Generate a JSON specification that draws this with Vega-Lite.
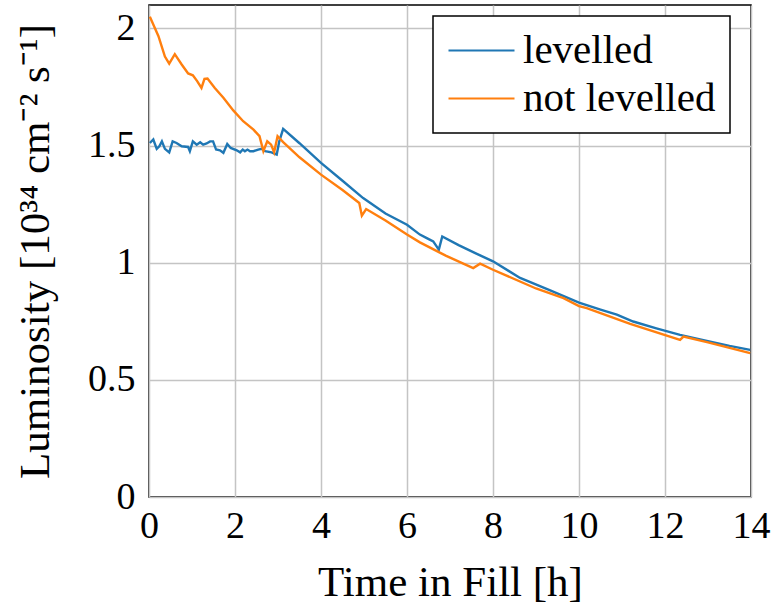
{
  "$schema": "https://vega.github.io/schema/vega-lite/v6.json",
  "width": 602,
  "height": 492,
  "autosize": {"type": "none"},
  "padding": {"left": 149, "top": 5, "right": 23, "bottom": 111},
  "background": "white",
  "data": {
    "values": [
      {"t": 0.02, "L": 1.511, "s": "levelled"},
      {"t": 0.10, "L": 1.526, "s": "levelled"},
      {"t": 0.18, "L": 1.486, "s": "levelled"},
      {"t": 0.24, "L": 1.497, "s": "levelled"},
      {"t": 0.30, "L": 1.518, "s": "levelled"},
      {"t": 0.37, "L": 1.486, "s": "levelled"},
      {"t": 0.47, "L": 1.471, "s": "levelled"},
      {"t": 0.55, "L": 1.518, "s": "levelled"},
      {"t": 0.64, "L": 1.511, "s": "levelled"},
      {"t": 0.76, "L": 1.497, "s": "levelled"},
      {"t": 0.91, "L": 1.494, "s": "levelled"},
      {"t": 0.95, "L": 1.476, "s": "levelled"},
      {"t": 1.02, "L": 1.518, "s": "levelled"},
      {"t": 1.11, "L": 1.504, "s": "levelled"},
      {"t": 1.19, "L": 1.514, "s": "levelled"},
      {"t": 1.26, "L": 1.504, "s": "levelled"},
      {"t": 1.34, "L": 1.509, "s": "levelled"},
      {"t": 1.42, "L": 1.518, "s": "levelled"},
      {"t": 1.49, "L": 1.518, "s": "levelled"},
      {"t": 1.56, "L": 1.483, "s": "levelled"},
      {"t": 1.65, "L": 1.480, "s": "levelled"},
      {"t": 1.73, "L": 1.469, "s": "levelled"},
      {"t": 1.82, "L": 1.507, "s": "levelled"},
      {"t": 1.90, "L": 1.490, "s": "levelled"},
      {"t": 2.04, "L": 1.480, "s": "levelled"},
      {"t": 2.12, "L": 1.471, "s": "levelled"},
      {"t": 2.18, "L": 1.483, "s": "levelled"},
      {"t": 2.23, "L": 1.476, "s": "levelled"},
      {"t": 2.29, "L": 1.483, "s": "levelled"},
      {"t": 2.35, "L": 1.476, "s": "levelled"},
      {"t": 2.43, "L": 1.476, "s": "levelled"},
      {"t": 2.54, "L": 1.483, "s": "levelled"},
      {"t": 2.62, "L": 1.486, "s": "levelled"},
      {"t": 2.70, "L": 1.476, "s": "levelled"},
      {"t": 2.85, "L": 1.471, "s": "levelled"},
      {"t": 2.97, "L": 1.462, "s": "levelled"},
      {"t": 3.03, "L": 1.518, "s": "levelled"},
      {"t": 3.12, "L": 1.571, "s": "levelled"},
      {"t": 3.5, "L": 1.51, "s": "levelled"},
      {"t": 4.0, "L": 1.426, "s": "levelled"},
      {"t": 4.5, "L": 1.35, "s": "levelled"},
      {"t": 4.98, "L": 1.276, "s": "levelled"},
      {"t": 5.5, "L": 1.21, "s": "levelled"},
      {"t": 6.0, "L": 1.162, "s": "levelled"},
      {"t": 6.3, "L": 1.12, "s": "levelled"},
      {"t": 6.46, "L": 1.105, "s": "levelled"},
      {"t": 6.61, "L": 1.091, "s": "levelled"},
      {"t": 6.74, "L": 1.056, "s": "levelled"},
      {"t": 6.82, "L": 1.112, "s": "levelled"},
      {"t": 7.2, "L": 1.075, "s": "levelled"},
      {"t": 7.6, "L": 1.04, "s": "levelled"},
      {"t": 8.0, "L": 1.006, "s": "levelled"},
      {"t": 8.63, "L": 0.935, "s": "levelled"},
      {"t": 9.33, "L": 0.882, "s": "levelled"},
      {"t": 10.0, "L": 0.830, "s": "levelled"},
      {"t": 10.5, "L": 0.80, "s": "levelled"},
      {"t": 10.88, "L": 0.778, "s": "levelled"},
      {"t": 11.26, "L": 0.749, "s": "levelled"},
      {"t": 11.8, "L": 0.72, "s": "levelled"},
      {"t": 12.35, "L": 0.692, "s": "levelled"},
      {"t": 13.0, "L": 0.665, "s": "levelled"},
      {"t": 13.5, "L": 0.645, "s": "levelled"},
      {"t": 13.98, "L": 0.628, "s": "levelled"},
      {"t": 0.02, "L": 2.05, "s": "not levelled"},
      {"t": 0.22, "L": 1.967, "s": "not levelled"},
      {"t": 0.37, "L": 1.88, "s": "not levelled"},
      {"t": 0.47, "L": 1.85, "s": "not levelled"},
      {"t": 0.60, "L": 1.89, "s": "not levelled"},
      {"t": 0.76, "L": 1.846, "s": "not levelled"},
      {"t": 0.91, "L": 1.808, "s": "not levelled"},
      {"t": 1.02, "L": 1.80, "s": "not levelled"},
      {"t": 1.12, "L": 1.775, "s": "not levelled"},
      {"t": 1.22, "L": 1.746, "s": "not levelled"},
      {"t": 1.29, "L": 1.785, "s": "not levelled"},
      {"t": 1.36, "L": 1.786, "s": "not levelled"},
      {"t": 1.53, "L": 1.746, "s": "not levelled"},
      {"t": 1.73, "L": 1.704, "s": "not levelled"},
      {"t": 1.96, "L": 1.65, "s": "not levelled"},
      {"t": 2.19, "L": 1.604, "s": "not levelled"},
      {"t": 2.43, "L": 1.568, "s": "not levelled"},
      {"t": 2.57, "L": 1.54, "s": "not levelled"},
      {"t": 2.66, "L": 1.476, "s": "not levelled"},
      {"t": 2.75, "L": 1.518, "s": "not levelled"},
      {"t": 2.84, "L": 1.504, "s": "not levelled"},
      {"t": 2.91, "L": 1.471, "s": "not levelled"},
      {"t": 2.99, "L": 1.54, "s": "not levelled"},
      {"t": 3.12, "L": 1.515, "s": "not levelled"},
      {"t": 3.5, "L": 1.45, "s": "not levelled"},
      {"t": 4.0, "L": 1.376, "s": "not levelled"},
      {"t": 4.5, "L": 1.31, "s": "not levelled"},
      {"t": 4.89, "L": 1.255, "s": "not levelled"},
      {"t": 4.95, "L": 1.201, "s": "not levelled"},
      {"t": 5.05, "L": 1.229, "s": "not levelled"},
      {"t": 5.5, "L": 1.18, "s": "not levelled"},
      {"t": 6.0, "L": 1.12, "s": "not levelled"},
      {"t": 6.3, "L": 1.087, "s": "not levelled"},
      {"t": 6.9, "L": 1.03, "s": "not levelled"},
      {"t": 7.54, "L": 0.977, "s": "not levelled"},
      {"t": 7.70, "L": 0.996, "s": "not levelled"},
      {"t": 8.0, "L": 0.970, "s": "not levelled"},
      {"t": 9.0, "L": 0.89, "s": "not levelled"},
      {"t": 9.64, "L": 0.849, "s": "not levelled"},
      {"t": 10.0, "L": 0.815, "s": "not levelled"},
      {"t": 10.18, "L": 0.806, "s": "not levelled"},
      {"t": 11.19, "L": 0.739, "s": "not levelled"},
      {"t": 12.35, "L": 0.671, "s": "not levelled"},
      {"t": 12.43, "L": 0.685, "s": "not levelled"},
      {"t": 13.0, "L": 0.66, "s": "not levelled"},
      {"t": 13.98, "L": 0.614, "s": "not levelled"}
    ]
  },
  "mark": {"type": "line", "strokeWidth": 2.4, "clip": true},
  "encoding": {
    "x": {
      "field": "t",
      "type": "quantitative",
      "scale": {"domain": [0, 14], "nice": false, "zero": false},
      "axis": {"values": [0, 2, 4, 6, 8, 10, 12, 14], "title": "Time in Fill [h]", "format": "~g", "labelPadding": 10, "titlePadding": 16, "labelFlush": false}
    },
    "y": {
      "field": "L",
      "type": "quantitative",
      "scale": {"domain": [0, 2.1], "nice": false},
      "axis": {"values": [0, 0.5, 1, 1.5, 2], "title": "Luminosity [10³⁴ cm⁻² s⁻¹]", "format": "~g", "labelPadding": 14, "titlePadding": 30, "labelFlush": false}
    },
    "color": {
      "field": "s",
      "type": "nominal",
      "scale": {"domain": ["levelled", "not levelled"], "range": ["#1f77b4", "#ff7f0e"]},
      "legend": {
        "title": null,
        "orient": "none",
        "legendX": 284,
        "legendY": 11,
        "symbolType": "M-2,0H2",
        "symbolSize": 1089,
        "symbolOffset": 14,
        "symbolStrokeWidth": 2.2,
        "labelFontSize": 41,
        "labelFont": "Liberation Serif",
        "labelColor": "black",
        "labelLimit": 400,
        "labelOffset": 21,
        "rowPadding": 6,
        "padding": 14,
        "strokeColor": "black",
        "fillColor": "white",
        "cornerRadius": 0
      }
    }
  },
  "config": {
    "view": {"stroke": "black", "strokeWidth": 1.5},
    "axis": {
      "domain": false,
      "ticks": false,
      "tickSize": 0,
      "grid": true,
      "gridColor": "#c4c4c4",
      "gridWidth": 1.5,
      "gridOpacity": 1,
      "labelFont": "Liberation Serif",
      "labelFontSize": 38,
      "labelColor": "black",
      "titleFont": "Liberation Serif",
      "titleFontSize": 43,
      "titleFontWeight": "normal",
      "titleColor": "black"
    },
    "legend": {"strokeWidth": 1.5}
  }
}
